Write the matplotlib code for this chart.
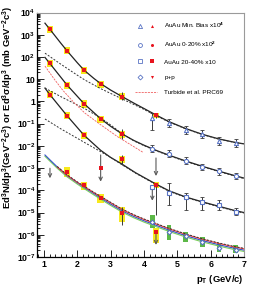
import numpy as np
import matplotlib
matplotlib.use('Agg')
import matplotlib.pyplot as plt
from matplotlib.ticker import FixedLocator, FixedFormatter, LogLocator, NullFormatter, MultipleLocator
from matplotlib.legend_handler import HandlerTuple
from matplotlib.lines import Line2D
from matplotlib.patches import Rectangle

plt.rcParams['font.family'] = ['Liberation Sans', 'DejaVu Sans']
plt.rcParams['mathtext.fontset'] = 'custom'
plt.rcParams['mathtext.rm'] = 'Liberation Sans:bold'
plt.rcParams['mathtext.it'] = 'Liberation Sans:bold'
plt.rcParams['mathtext.bf'] = 'Liberation Sans:bold'

# ---------------- data ----------------
# red (virtual photon) points
x_mb = [1.18, 1.69, 2.2, 2.7, 3.34, 4.36]
mb_red = [1750, 190, 26, 5.9, 1.66, 0.238]
mb_sys_lo = [1200, 130, 18, 4.1, 1.15, 0.18]
mb_sys_hi = [2500, 270, 37, 8.5, 2.4, 0.31]

x_c0 = [1.18, 1.69, 2.2, 2.7, 3.34]
c0_red = [52, 5.3, 0.77, 0.157, 0.034]
c0_sys_lo = [36, 3.7, 0.53, 0.108, 0.023]
c0_sys_hi = [75, 7.6, 1.1, 0.226, 0.049]

x_c20 = [1.18, 1.69, 2.2, 3.34, 4.36]
c20_red = [2.0, 0.228, 0.030, 2.5e-3, 1.74e-4]
c20_sys_lo = [1.4, 0.157, 0.021, 1.75e-3, 1.25e-4]
c20_sys_hi = [2.9, 0.33, 0.043, 3.6e-3, 2.4e-4]
x_c20_lim = [2.7]
c20_lim = [1.05e-3]

x_pp = [1.69, 2.2, 2.7, 3.34, 4.36]
pp_red = [6.9e-4, 1.74e-4, 4.5e-5, 9.3e-6, 1.28e-6]
pp_sys_lo = [4.1e-4, 1.04e-4, 2.6e-5, 3.9e-6, 4.1e-7]
pp_sys_hi = [1.15e-3, 2.45e-4, 6.8e-5, 1.84e-5, 2.0e-6]

red_err_x = [3.34, 3.34, 4.36, 3.34, 4.36, 3.34]
red_err_lo = [1.16, 0.0198, 0.175, 1.38e-3, 7.8e-6, 2.8e-6]
red_err_hi = [2.74, 0.0557, 0.312, 3.9e-3, 2.2e-4, 1.84e-5]

# blue (real photon) points
x_hi = [4.25, 4.75, 5.25, 5.75, 6.25, 6.75]
mb_blue = [0.174, 0.104, 0.052, 0.033, 0.017, 0.0132]
mb_blue_lo = [0.052, 0.069, 0.035, 0.022, 0.0113, 0.0088]
mb_blue_hi = [0.31, 0.156, 0.078, 0.050, 0.026, 0.020]
c0_blue = [0.0075, 0.0045, 0.0021, 0.0011, 7.2e-4, 4.4e-4]
c0_blue_lo = [0.0052, 0.0032, 0.0015, 7.9e-4, 5.1e-4, 3.1e-4]
c0_blue_hi = [0.011, 0.0064, 0.0030, 0.0015, 1.0e-3, 6.2e-4]
c20_blue = [1.38e-4, 7.8e-5, 5.2e-5, 3.1e-5, 2.2e-5, 1.1e-5]
c20_blue_lo = [1.38e-4, 2.2e-5, 1.3e-5, 1.3e-5, 1.3e-5, 7.8e-6]
c20_blue_hi = [1.38e-4, 2.07e-4, 7.6e-5, 5.0e-5, 3.7e-5, 1.61e-5]
pp_blue = [3.9e-6, 1.38e-6, 8.9e-7, 4.9e-7, 2.6e-7, 2.1e-7]
pp_blue_sys_lo = [1.95e-6, 5.8e-7, 4.9e-7, 2.9e-7, 1.74e-7, 1.48e-7]
pp_blue_sys_hi = [7.8e-6, 2.75e-6, 1.38e-6, 8.2e-7, 4.2e-7, 3.5e-7]

# upper-limit arrows
ul_x = [1.18, 2.7, 4.36, 4.25, 4.36]
ul_top = [9.8e-4, 3.9e-3, 2.85e-3, 1.38e-4, 1.35e-6]
ul_bot = [3.5e-4, 2.45e-4, 4.4e-4, 3.4e-5, 3.5e-7]

# curves (log10 values)
cx_mb = [1.03, 1.18, 1.5, 1.69, 2.0, 2.2, 2.5, 2.7, 3.0, 3.34, 3.7, 4.0, 4.36, 4.75, 5.25, 5.75, 6.25, 6.75, 7.0]
cl_mb = [3.52, 3.24, 2.63, 2.28, 1.74, 1.41, 1.03, 0.80, 0.51, 0.22, -0.08, -0.32, -0.61, -0.91, -1.22, -1.48, -1.69, -1.85, -1.91]
cx_c0 = [1.03, 1.18, 1.69, 2.2, 2.7, 3.0, 3.34, 3.7, 4.0, 4.36, 4.75, 5.25, 5.75, 6.25, 6.75, 7.0]
cl_c0 = [1.98, 1.70, 0.74, -0.10, -0.78, -1.12, -1.46, -1.76, -1.97, -2.20, -2.42, -2.68, -2.92, -3.14, -3.35, -3.45]
cx_c20 = [1.03, 1.18, 1.69, 2.2, 2.7, 3.0, 3.34, 3.76, 4.36, 4.75, 5.25, 5.75, 6.25, 6.75, 7.0]
cl_c20 = [0.60, 0.30, -0.64, -1.52, -2.20, -2.52, -2.82, -3.22, -3.72, -4.02, -4.30, -4.52, -4.72, -4.92, -5.00]

dx_mb = [1.03, 1.5, 2.0, 2.23, 2.68, 3.0, 3.33, 3.7, 4.0, 4.36, 4.75, 5.25, 5.75, 6.25, 6.75, 7.0]
dl_mb = [2.17, 1.68, 1.18, 0.96, 0.59, 0.36, 0.12, -0.14, -0.36, -0.64, -0.93, -1.235, -1.49, -1.70, -1.855, -1.915]
dx_c0 = [1.03, 1.5, 2.0, 2.23, 2.7, 3.0, 3.34, 3.7, 4.0, 4.36, 4.75, 5.25, 5.75, 6.25, 6.75, 7.0]
dl_c0 = [0.60, 0.22, -0.16, -0.33, -0.74, -1.06, -1.45, -1.78, -1.99, -2.22, -2.44, -2.70, -2.94, -3.16, -3.37, -3.47]
dx_c20 = [1.03, 1.5, 2.0, 2.23, 2.7, 3.0, 3.33, 3.76, 4.36, 4.75, 5.25, 5.75, 6.25, 6.75, 7.0]
dl_c20 = [-0.79, -1.23, -1.66, -1.86, -2.26, -2.52, -2.84, -3.24, -3.74, -4.04, -4.32, -4.54, -4.74, -4.94, -5.02]

px = [1.03, 1.2, 1.4, 1.69, 2.0, 2.2, 2.5, 2.7, 3.0, 3.34, 3.7, 4.0, 4.25, 4.75, 5.25, 5.75, 6.25, 6.75, 7.0]
pl_blue = [-2.41, -2.66, -2.95, -3.33, -3.66, -3.86, -4.15, -4.34, -4.62, -4.92, -5.18, -5.37, -5.51, -5.79, -6.04, -6.26, -6.45, -6.62, -6.69]
pl_green = [-2.47, -2.72, -3.01, -3.39, -3.72, -3.92, -4.21, -4.40, -4.68, -4.98, -5.24, -5.43, -5.57, -5.85, -6.10, -6.32, -6.51, -6.68, -6.75]
px2 = [1.4, 1.69, 2.0, 2.2, 2.5, 2.7, 3.0, 3.34, 3.7, 4.0, 4.25, 4.75, 5.25, 5.75, 6.25, 6.75, 7.0]
pl_red = [-2.95, -3.32, -3.64, -3.83, -4.11, -4.29, -4.56, -4.86, -5.12, -5.31, -5.45, -5.73, -5.98, -6.20, -6.39, -6.56, -6.63]
pl_fit = [-2.93, -3.30, -3.62, -3.81, -4.09, -4.27, -4.54, -4.84, -5.10, -5.29, -5.43, -5.71, -5.96, -6.18, -6.37, -6.54, -6.61]

tx = [1.03, 1.3, 1.56, 1.9, 2.23, 2.7, 3.2, 3.58, 3.98]
tl = [1.59, 1.02, 0.51, -0.05, -0.53, -1.05, -1.58, -1.93, -2.30]

ytick_vals = [1e-7, 1e-6, 1e-5, 1e-4, 1e-3, 1e-2, 1e-1, 1, 10, 1e2, 1e3, 1e4]
ytick_labels = ['10$^{-7}$', '10$^{-6}$', '10$^{-5}$', '10$^{-4}$', '10$^{-3}$', '10$^{-2}$',
                '10$^{-1}$', '1', '10', '10$^{2}$', '10$^{3}$', '10$^{4}$']
xtick_vals = [1, 2, 3, 4, 5, 6, 7]
xtick_labels = ['1', '2', '3', '4', '5', '6', '7']

legend_labels = ['AuAu Min. Bias x10$^{4}$', 'AuAu 0-20% x10$^{2}$', 'AuAu 20-40% x10', 'p+p', 'Turbide et al. PRC69']

# ---------------- style ----------------
RED = '#e8141e'
BLUE = '#5a74c4'
YEL = '#f7e81c'
GRN = '#5cb847'
ERR = '#3a3a3a'
ARR = '#5a5a5a'

W, H = 254, 291
fig = plt.figure(figsize=(W / 100, H / 100), dpi=100)
ax = fig.add_axes([37.3 / W, (H - 257) / H, (244 - 37.3) / W, (257 - 12.5) / H])
ax.set_yscale('log')
ax.set_xlim(0.8, 7.0)
ax.set_ylim(1e-7, 1e4)

def lg(v):
    return 10.0 ** np.asarray(v)

# systematic boxes
def boxes(xs, lo, hi, w, color):
    for x, l, h in zip(xs, lo, hi):
        ax.add_patch(Rectangle((x - w / 2, l), w, h - l, facecolor=color, edgecolor='none', zorder=2))

boxes(x_mb, mb_sys_lo, mb_sys_hi, 0.2, YEL)
boxes(x_c0, c0_sys_lo, c0_sys_hi, 0.2, YEL)
boxes(x_c20, c20_sys_lo, c20_sys_hi, 0.2, YEL)
boxes(x_pp, pp_sys_lo, pp_sys_hi, 0.2, YEL)
boxes(x_hi, pp_blue_sys_lo, pp_blue_sys_hi, 0.14, GRN)

# curves
lw = 0.9
ax.plot(cx_mb, lg(cl_mb), color='#222222', lw=lw, zorder=3)
ax.plot(cx_c0, lg(cl_c0), color='#222222', lw=lw, zorder=3)
ax.plot(cx_c20, lg(cl_c20), color='#222222', lw=lw, zorder=3)
ds = (0, (2.0, 1.6))
ax.plot(dx_mb, lg(dl_mb), color='#333333', lw=0.7, ls=ds, zorder=3)
ax.plot(dx_c0, lg(dl_c0), color='#333333', lw=0.7, ls=ds, zorder=3)
ax.plot(dx_c20, lg(dl_c20), color='#333333', lw=0.7, ls=ds, zorder=3)
ax.plot(px, lg(pl_green), color='#7ccf5a', lw=0.8, zorder=3)
ax.plot(px, lg(pl_blue), color='#3550c8', lw=0.8, zorder=3)
ax.plot(px2, lg(pl_red), color='#f04040', lw=0.8, zorder=3)
ax.plot(px2, lg(pl_fit), color='#333333', lw=0.7, ls=ds, zorder=3)
ax.plot(tx, lg(tl), color='#f06060', lw=0.6, ls=(0, (2.5, 1.2)), zorder=3)

# stat errors on red points
ax.vlines(red_err_x, red_err_lo, red_err_hi, color=ERR, lw=0.7, zorder=4)

# blue points with error bars
def blue_pts(xs, ys, lo, hi, marker):
    ys = np.asarray(ys); lo = np.asarray(lo); hi = np.asarray(hi)
    ax.errorbar(xs, ys, yerr=[ys - lo, hi - ys], fmt='none', ecolor=ERR, elinewidth=0.7,
                capsize=1.3, capthick=0.6, zorder=4)
    ax.plot(xs, ys, ls='none', marker=marker, ms=3.0, mfc='white', mec=BLUE, mew=0.8, zorder=5)

blue_pts(x_hi, mb_blue, mb_blue_lo, mb_blue_hi, '^')
blue_pts(x_hi, c0_blue, c0_blue_lo, c0_blue_hi, 'o')
blue_pts(x_hi, c20_blue, c20_blue_lo, c20_blue_hi, 's')
ax.plot(x_hi, pp_blue, ls='none', marker='D', ms=2.4, mfc='white', mec=BLUE, mew=0.8, zorder=5)

# arrows
for x, t, b in zip(ul_x, ul_top, ul_bot):
    ax.annotate('', xy=(x, b), xytext=(x, t),
                arrowprops=dict(arrowstyle='->', color=ARR, lw=0.8, shrinkA=0, shrinkB=0,
                                mutation_scale=6), zorder=4)

# red markers
ms_r = 2.2
ax.plot(x_mb, mb_red, ls='none', marker='s', ms=ms_r, color=RED, mew=0, zorder=6)
ax.plot(x_c0, c0_red, ls='none', marker='s', ms=ms_r, color=RED, mew=0, zorder=6)
ax.plot(x_c20, c20_red, ls='none', marker='s', ms=ms_r, color=RED, mew=0, zorder=6)
ax.plot(x_c20_lim, c20_lim, ls='none', marker='s', ms=ms_r, color=RED, mew=0, zorder=6)
ax.plot(x_pp, pp_red, ls='none', marker='s', ms=ms_r, color=RED, mew=0, zorder=6)

# axes style
ax.yaxis.set_major_locator(FixedLocator(ytick_vals))
ax.yaxis.set_major_formatter(FixedFormatter(ytick_labels))
ax.yaxis.set_minor_locator(LogLocator(base=10, subs=np.arange(2, 10), numticks=30))
ax.yaxis.set_minor_formatter(NullFormatter())
ax.xaxis.set_major_locator(FixedLocator(xtick_vals))
ax.xaxis.set_major_formatter(FixedFormatter(xtick_labels))
ax.xaxis.set_minor_locator(MultipleLocator(1 / 6))
ax.tick_params(which='both', direction='in', top=False, right=False, width=0.6, colors='black')
ax.tick_params(which='major', length=5)
ax.tick_params(which='minor', length=2.5)
ax.tick_params(axis='y', which='major', pad=1.5, labelsize=6.3)
ax.tick_params(axis='x', which='major', pad=2, labelsize=6.3)
for lab in ax.get_xticklabels() + ax.get_yticklabels():
    lab.set_fontweight('bold')
for s in ['left', 'bottom']:
    ax.spines[s].set_color('black'); ax.spines[s].set_linewidth(0.9)
for s in ['top', 'right']:
    ax.spines[s].set_color('#9a9a9a'); ax.spines[s].set_linewidth(0.8)

# legend
def mk(marker, filled, color, ms):
    if filled:
        return Line2D([], [], ls='none', marker=marker, color=color, ms=ms, mew=0)
    return Line2D([], [], ls='none', marker=marker, mfc='none', mec=color, ms=ms, mew=0.6)

handles = [
    (mk('^', False, BLUE, 3.0), mk('^', True, RED, 2.2)),
    (mk('o', False, BLUE, 2.8), mk('o', True, RED, 2.2)),
    (mk('s', False, BLUE, 2.8), mk('s', True, RED, 2.2)),
    (mk('D', False, BLUE, 2.5), mk('v', True, RED, 2.2)),
    Line2D([], [], color='#f06060', lw=0.6, ls=(0, (2.5, 1.2))),
]
leg = ax.legend(handles, legend_labels, handler_map={tuple: HandlerTuple(ndivide=None, pad=0.3)},
                loc='upper left', bbox_to_anchor=(0.45, 0.985), frameon=False, fontsize=4.6,
                handlelength=3.4, handletextpad=1.2, labelspacing=1.55, borderpad=0.2)

fig.text(8.5 / W, (H - 6) / H,
         'Ed$^{3}$N/dp$^{3}$(GeV$^{-2}$c$^{3}$) or Ed$^{3}\\sigma$/dp$^{3}$ (mb GeV$^{-2}$c$^{3}$)',
         rotation=90, ha='center', va='top', fontsize=6.8, fontweight='bold')
fig.text(244 / W, (H - 279) / H, 'p$_{\\mathrm{T}}$ (GeV/c)', ha='right', va='center',
         fontsize=6.8, fontweight='bold')

fig.savefig('out.png', dpi=100)
